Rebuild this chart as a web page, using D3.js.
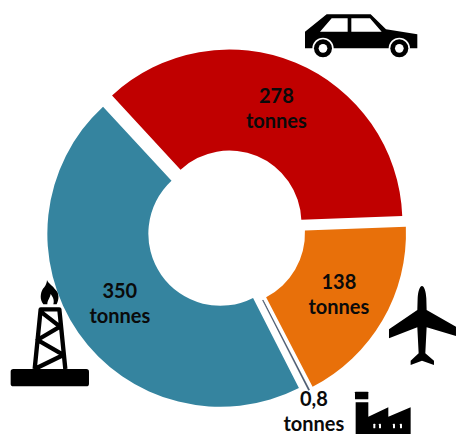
<!DOCTYPE html>
<html>
<head>
<meta charset="utf-8">
<script src="https://cdn.jsdelivr.net/npm/d3@7"></script>
<style>
  html, body { margin: 0; padding: 0; background: #fff; }
  svg { display: block; }
  text { font-family: Lato, "Open Sans", sans-serif; font-weight: 700; font-size: 20px; fill: #0a0a0a; text-anchor: middle; }
</style>
</head>
<body>
<svg id="chart" width="456" height="434"></svg>
<script>
// Emissions per sector, in tonnes
const sectors = ["Transport routier", "Transport aérien", "Industrie", "Pétrole et gaz"];
const tonnes = [278, 138, 0.8, 350];
const valueLabels = ["278", "138", "0,8", "350"];
const unitLabel = "tonnes";
const colours = ["#c00000", "#e8700a", "#44546a", "#35849f"];

const width = 456, height = 434;
const cx = 226.5, cy = 229.5;
const outerR = 173, innerR = 72, explode = 7.5;
const rad = Math.PI / 180;

const svg = d3.select("#chart");

const pie = d3.pie().sort(null)
  .startAngle(-42.7 * rad)
  .endAngle((360 - 42.7) * rad);

const arc = d3.arc().innerRadius(innerR).outerRadius(outerR);

const arcs = pie(tonnes);

// Each slice is pulled away from the centre along its bisector
const shift = d => {
  const a = (d.startAngle + d.endAngle) / 2;
  return [cx + explode * Math.sin(a), cy - explode * Math.cos(a)];
};

const slices = svg.append("g").selectAll("g").data(arcs).join("g")
  .attr("transform", d => `translate(${shift(d)})`);

slices.append("path")
  .attr("d", arc)
  .attr("fill", (d, i) => colours[i])
  .attr("stroke", (d, i) => i === 2 ? colours[i] : "none")
  .attr("stroke-width", 0.6);

// Value labels: inside each wide slice, just outside the rim for the thin one
const labels = slices.append("text")
  .attr("transform", d => {
    const mid = (d.startAngle + d.endAngle) / 2;
    const p = d.data < 5 ? d3.pointRadial(mid + 0.03, 195) : arc.centroid(d);
    return `translate(${p})`;
  });
labels.append("tspan").attr("x", 0).attr("dy", "-0.3em").text((d, i) => valueLabels[i]);
labels.append("tspan").attr("x", 0).attr("dy", "1.25em").text(unitLabel);

// Pictograms
const icons = svg.append("g").attr("fill", "#000");

// Car
const car = icons.append("g").attr("transform", "translate(280,0) scale(0.3333)");
car.append("path").attr("d", "M75,95 L140,43 H272 L318,88 L412,103 V145 H75 Z");
car.append("path").attr("fill", "#fff").attr("d", "M120,95 L155,55 H203 V95 Z M214,55 H270 L305,95 H214 Z");
[129, 358].forEach(x => {
  car.append("circle").attr("cx", x).attr("cy", 145).attr("r", 32).attr("fill", "#fff");
  car.append("circle").attr("cx", x).attr("cy", 145).attr("r", 27);
  car.append("circle").attr("cx", x).attr("cy", 145).attr("r", 13).attr("fill", "#fff");
});

// Aeroplane
icons.append("path")
  .attr("transform", "translate(240,270) scale(0.3333)")
  .attr("d", "M546,48 C553,48 558,65 559,85 L560,120 L648,170 V198 L560,172 L556,250 L582,272 V285 L546,272 L512,285 V272 L536,250 L532,172 L447,205 V178 L532,120 L533,85 C534,65 539,48 546,48 Z");

// Factory
const factory = icons.append("g").attr("transform", "translate(240,270) scale(0.3333)");
factory.append("rect").attr("x", 345).attr("y", 365).attr("width", 40).attr("height", 23).attr("rx", 2);
factory.append("path").attr("d", "M347,397 H385 V440 L445,412 V440 L512,412 V500 H347 Z");
[403, 420, 462, 483].forEach(x => {
  factory.append("rect").attr("x", x - 3).attr("y", 461).attr("width", 6).attr("height", 14).attr("rx", 2).attr("fill", "#fff");
});

// Oil derrick with flame
const rig = icons.append("g").attr("transform", "translate(0,270) scale(0.3333)");
rig.append("rect").attr("x", 32).attr("y", 297).attr("width", 235).attr("height", 52).attr("rx", 8);
rig.append("path")
  .attr("fill", "none").attr("stroke", "#000").attr("stroke-width", 13).attr("stroke-linejoin", "round")
  .attr("d", "M104,297 L122,118 H178 L196,297 M122,125 L180,170 L112,210 L190,255 L104,297");
rig.append("path")
  .attr("d", "M141,30 C146,42 160,48 165,58 C178,68 178,88 170,103 H160 C164,90 158,80 152,72 C150,85 142,90 142,103 H130 C118,88 122,68 128,58 C134,50 140,44 141,30 Z");
</script>
</body>
</html>
